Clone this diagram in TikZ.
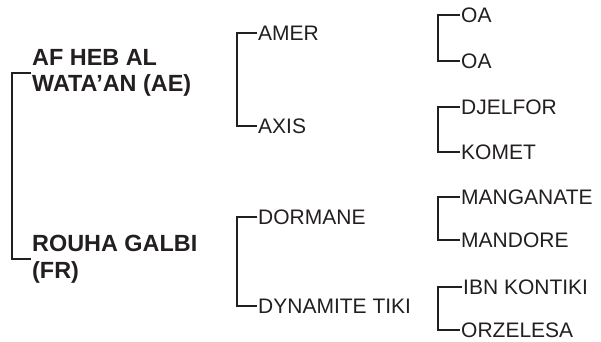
\documentclass[tikz,border=0pt]{standalone}
\usepackage{fontspec}
\setmainfont{Liberation Sans}
\definecolor{ink}{HTML}{231F20}

\begin{document}
\begin{tikzpicture}[
		x=1pt, y=-1pt,
		every node/.style={anchor=west, inner xsep=1pt, inner ysep=0pt, text=ink, font=\fontsize{21}{25}\selectfont},
		root/.style={align=left, font=\fontsize{23.4}{26.5}\selectfont\bfseries},
		leaf/.style={text height=15pt, text depth=0pt},
		bracket/.style={draw=ink, line width=2.3pt}
	]
  \useasboundingbox (0,0) rectangle (601,341);
  % first level
  \node (ae) [root] at (31, 73) {AF HEB AL\\WATA'AN (AE)};
  \node (fr) [root] at (31, 259) {ROUHA GALBI\\(FR)};
  % second level
  \node (amer) [leaf] at (257, 33) {AMER};
  \node (axis) [leaf] at (257, 126) {AXIS};
  \node (dormane) [leaf] at (257, 217) {DORMANE};
  \node (dynamite) [leaf] at (257, 306) {DYNAMITE TIKI};
  % third level
  \node (oa_a) [leaf] at (460, 15) {OA};
  \node (oa_b) [leaf] at (460, 61) {OA};
  \node (djelfor) [leaf] at (460, 107) {DJELFOR};
  \node (komet) [leaf] at (460, 152) {KOMET};
  \node (manganate) [leaf] at (460, 197) {MANGANATE};
  \node (mandore) [leaf] at (460, 240) {MANDORE};
  \node (ibn) [leaf] at (462, 287) {IBN KONTIKI};
  \node (orzelesa) [leaf] at (460, 330) {ORZELESA};
  \draw [bracket] (ae.west) -- ++(-19,0) |- (fr.west);
  \draw [bracket] (amer.west) -- ++(-20,0) |- (axis.west);
  \draw [bracket] (dormane.west) -- ++(-20,0) |- (dynamite.west);
  \draw [bracket] (oa_a.west) -- ++(-22,0) |- (oa_b.west);
  \draw [bracket] (djelfor.west) -- ++(-22,0) |- (komet.west);
  \draw [bracket] (manganate.west) -- ++(-22,0) |- (mandore.west);
  \draw [bracket] (ibn.west) -- ++(-24,0) |- (orzelesa.west);
\end{tikzpicture}
\end{document}
